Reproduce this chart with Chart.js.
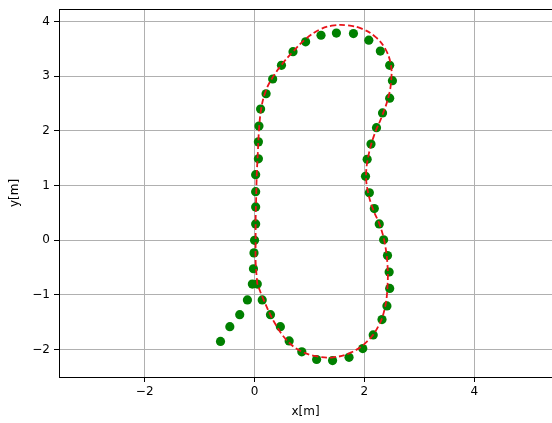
<!DOCTYPE html>
<html>
<head>
<meta charset="utf-8">
<script src="https://cdn.jsdelivr.net/npm/chart.js@4/dist/chart.umd.min.js"></script>
<style>
  html, body { margin: 0; padding: 0; background: #fff; overflow: hidden; }
  #wrap { width: 552px; height: 423px; }
</style>
</head>
<body>
<div id="wrap"><canvas id="pathChart"></canvas></div>
<script>
// measured positions (green dots)
const dotX = [-0.62, -0.45, -0.27, -0.13, -0.04, -0.02, -0.01, 0.0, 0.02, 0.02, 0.02, 0.02, 0.07, 0.07, 0.08, 0.11,
  0.21, 0.33, 0.49, 0.70, 0.93, 1.21, 1.49, 1.80, 2.08, 2.29, 2.46, 2.51, 2.46, 2.33, 2.22, 2.12,
  2.05, 2.02, 2.09, 2.18, 2.27, 2.35, 2.42, 2.45, 2.46, 2.41, 2.32, 2.16, 1.97, 1.72, 1.42, 1.13,
  0.86, 0.63, 0.47, 0.29, 0.14, 0.05]
const dotY = [-1.85, -1.58, -1.36, -1.09, -0.80, -0.52, -0.23, 0.0, 0.30, 0.61, 0.89, 1.20, 1.49, 1.80, 2.09, 2.40,
  2.68, 2.95, 3.20, 3.45, 3.63, 3.75, 3.79, 3.78, 3.66, 3.46, 3.20, 2.92, 2.60, 2.33, 2.06, 1.76,
  1.48, 1.17, 0.87, 0.58, 0.30, 0.01, -0.28, -0.58, -0.88, -1.20, -1.45, -1.73, -1.98, -2.14, -2.20, -2.18,
  -2.04, -1.84, -1.58, -1.36, -1.09, -0.80]

// reference path (red dashed)
const pathX = [0.05, 0.02, 0.02, 0.02, 0.03, 0.04, 0.06, 0.08, 0.12, 0.2, 0.33, 0.5, 0.7, 0.93, 1.2, 1.45,
  1.7, 1.95, 2.2, 2.38, 2.48, 2.49, 2.44, 2.32, 2.17, 2.07, 2.03, 2.07, 2.16, 2.28, 2.37, 2.42,
  2.42, 2.37, 2.25, 2.05, 1.76, 1.43, 1.12, 0.83, 0.58, 0.36, 0.17, 0.05]
const pathY = [-0.8, -0.4, 0.0, 0.4, 0.8, 1.2, 1.6, 2.0, 2.4, 2.72, 2.98, 3.22, 3.45, 3.68, 3.86, 3.93,
  3.93, 3.87, 3.72, 3.5, 3.22, 2.95, 2.63, 2.27, 1.9, 1.53, 1.17, 0.86, 0.56, 0.28, -0.05, -0.45,
  -0.85, -1.25, -1.58, -1.85, -2.05, -2.14, -2.12, -2.02, -1.82, -1.5, -1.1, -0.8]

const xTicks = [-2, 0, 2, 4]
const yTicks = [-2, -1, 0, 1, 2, 3, 4]

const font = { family: "'DejaVu Sans', sans-serif", size: 12 }

// matplotlib-like top spine
const topSpine = {
  id: "topSpine",
  afterDraw(chart) {
    const { ctx, chartArea } = chart
    ctx.save()
    ctx.strokeStyle = "#000"
    ctx.lineWidth = 1
    ctx.beginPath()
    ctx.moveTo(chartArea.left, chartArea.top + 0.5)
    ctx.lineTo(chartArea.right, chartArea.top + 0.5)
    ctx.stroke()
    ctx.restore()
  },
}

function noPad(s) {
  s.paddingTop = 0
  s.paddingBottom = 0
  s.paddingLeft = 0
  s.paddingRight = 0
}

const config = {
  type: "scatter",
  data: {
    datasets: [
      {
        label: "path",
        data: pathX.map((x, i) => ({ x: x, y: pathY[i] })),
        showLine: true,
        tension: 0.4,
        borderColor: "#e8141a",
        borderWidth: 1.8,
        borderDash: [6, 3],
        pointRadius: 0,
        order: 0,
      },
      {
        label: "measured",
        data: dotX.map((x, i) => ({ x: x, y: dotY[i] })),
        backgroundColor: "#008000",
        borderColor: "#008000",
        pointRadius: 4.6,
        borderWidth: 0,
        order: 1,
      },
    ],
  },
  options: {
    responsive: true,
    maintainAspectRatio: false,
    animation: false,
    layout: { autoPadding: false, padding: { top: 9, right: 0, bottom: 0, left: 0 } },
    plugins: { legend: { display: false }, tooltip: { enabled: false } },
    scales: {
      x: {
        type: "linear",
        min: -3.56,
        max: 5.415,
        afterBuildTicks: (s) => { s.ticks = xTicks.map((v) => ({ value: v })) },
        afterFit: (s) => { s.height = 46; noPad(s) },
        grid: { color: "#b0b0b0", lineWidth: 1, tickLength: 5, tickColor: "#000" },
        border: { display: true, color: "#000", width: 1 },
        ticks: { font: font, color: "#000", padding: 3, maxRotation: 0,
          callback: (v) => (v < 0 ? "\u2212" + Math.abs(v) : String(v)) },
        title: { display: true, text: "x[m]", font: font, color: "#000", padding: { top: 2, bottom: 4 } },
      },
      y: {
        type: "linear",
        min: -2.5,
        max: 4.23,
        afterBuildTicks: (s) => { s.ticks = yTicks.map((v) => ({ value: v })) },
        afterFit: (s) => { s.width = 59; noPad(s) },
        grid: { color: "#b0b0b0", lineWidth: 1, tickLength: 5, tickColor: "#000" },
        border: { display: true, color: "#000", width: 1 },
        ticks: { font: font, color: "#000", padding: 4,
          callback: (v) => (v < 0 ? "\u2212" + Math.abs(v) : String(v)) },
        title: { display: true, text: "y[m]", font: font, color: "#000", padding: { top: 8, bottom: 0 } },
      },
    },
  },
  plugins: [topSpine],
}

const pathChart = new Chart(document.getElementById("pathChart"), config)
</script>
</body>
</html>
